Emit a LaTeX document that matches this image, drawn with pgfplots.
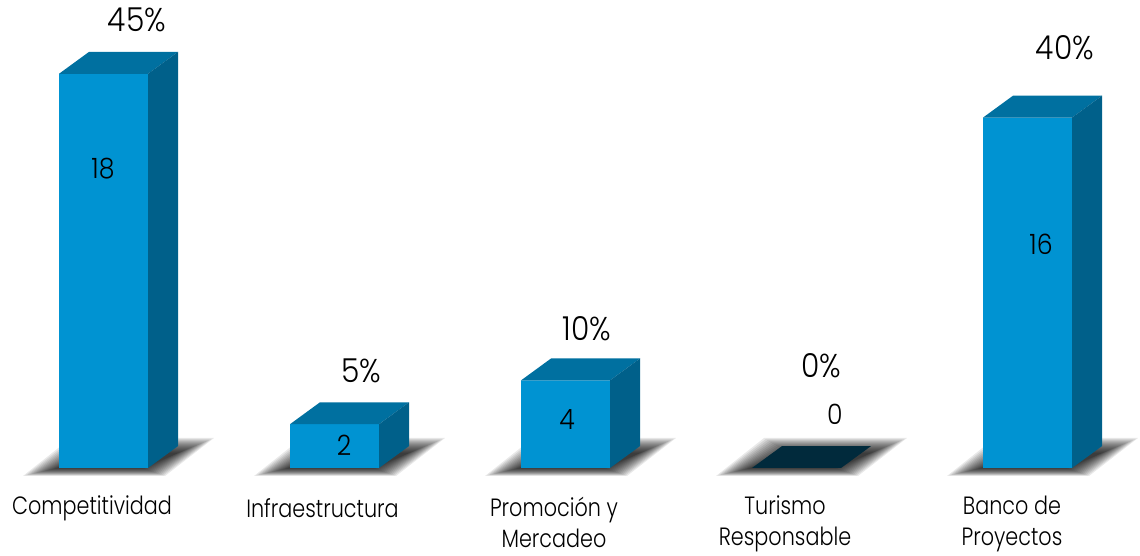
\documentclass[border=0pt]{standalone}
\usepackage{pgfplots}
\pgfplotsset{compat=1.18}
\usepackage{fontspec}
\setmainfont{Poppins Light}[FakeStretch=0.9]
\newfontfamily\labf{Poppins Light}[FakeStretch=0.83]
\definecolor{front}{RGB}{0,147,210}
\definecolor{topf}{RGB}{0,112,160}
\definecolor{sidef}{RGB}{0,96,138}
\definecolor{zerof}{RGB}{1,42,60}
\newcommand\py[1]{(468-(#1))/21.9}
\newcommand\shadowlayer[2]{%
  \fill[black,fill opacity=0.085] (axis cs:{#1-36+2.2*#2},{\py{476-0.5*#2}}) -- (axis cs:{#1+106-1.5*#2},{\py{476-0.5*#2}})
   -- (axis cs:{#1+155-2.4*#2},{\py{438+1.0*#2}}) -- (axis cs:{#1+12+1.8*#2},{\py{438+1.0*#2}}) -- cycle;}
\newcommand\shadowbar[1]{\shadowlayer{#1}{0}\shadowlayer{#1}{1}\shadowlayer{#1}{2}\shadowlayer{#1}{3}\shadowlayer{#1}{4}\shadowlayer{#1}{5}\shadowlayer{#1}{6}\shadowlayer{#1}{7}\shadowlayer{#1}{8}\shadowlayer{#1}{9}\shadowlayer{#1}{10}\shadowlayer{#1}{11}\shadowlayer{#1}{12}\shadowlayer{#1}{13}\shadowlayer{#1}{14}\shadowlayer{#1}{15}}
\newcommand\ptxt[4]{\node[anchor=center,align=center,font=\fontsize{#3}{31}\selectfont,inner sep=0pt] at (axis cs:#1,{\py{#2}}) {#4};}
\newcommand\ltxt[3]{\node[anchor=center,align=center,font=\fontsize{25}{31}\selectfont\labf,inner sep=0pt] at (axis cs:#1,{\py{#2}}) {#3};}
\begin{document}
\begin{tikzpicture}
\useasboundingbox (0,0) rectangle (1140pt,555pt);
\begin{axis}[
  scale only axis,width=1140pt,height=555pt,hide axis,anchor=south west,at={(0,0)},
  xmin=0,xmax=1140,ymin=-3.973,ymax=21.37,clip=true]
\shadowbar{59}\shadowbar{290}\shadowbar{521}\shadowbar{752}\shadowbar{983}
% zero-height bar
\addplot[fill=zerof,draw=none] coordinates {(752,0)(841,0)(871,1)(782,1)} -- cycle;
\addplot[ybar,bar width=89,fill=front,draw=none] coordinates {(103.5,18)(334.5,2)(565.5,4)(1027.5,16)};
\addplot[fill=topf,draw=none] coordinates {(59,18)(148,18)(178,19)(89,19)} -- cycle;
\addplot[fill=sidef,draw=none] coordinates {(148,0)(178,1)(178,19)(148,18)} -- cycle;
\addplot[fill=topf,draw=none] coordinates {(290,2)(379,2)(409,3)(320,3)} -- cycle;
\addplot[fill=sidef,draw=none] coordinates {(379,0)(409,1)(409,3)(379,2)} -- cycle;
\addplot[fill=topf,draw=none] coordinates {(521,4)(610,4)(640,5)(551,5)} -- cycle;
\addplot[fill=sidef,draw=none] coordinates {(610,0)(640,1)(640,5)(610,4)} -- cycle;
\addplot[fill=topf,draw=none] coordinates {(983,16)(1072,16)(1102,17)(1013,17)} -- cycle;
\addplot[fill=sidef,draw=none] coordinates {(1072,0)(1102,1)(1102,17)(1072,16)} -- cycle;
\ptxt{103}{169}{28}{18}
\ptxt{344}{445}{28}{2}
\ptxt{567}{420}{28}{4}
\ptxt{835}{414}{28}{0}
\ptxt{1041}{244}{28}{16}
\ptxt{137}{20}{33}{45\%}
\ptxt{361}{371}{33}{5\%}
\ptxt{587}{329}{33}{10\%}
\ptxt{821}{366}{33}{0\%}
\ptxt{1065}{48}{33}{40\%}
\ltxt{92}{508}{Competitividad}
\ltxt{322.5}{508}{Infraestructura}
\ltxt{554}{522.5}{Promoción y\\Mercadeo}
\ltxt{785}{523.5}{Turismo\\Responsable}
\ltxt{1012}{523.5}{Banco de\\Proyectos}
\end{axis}
\end{tikzpicture}
\end{document}
